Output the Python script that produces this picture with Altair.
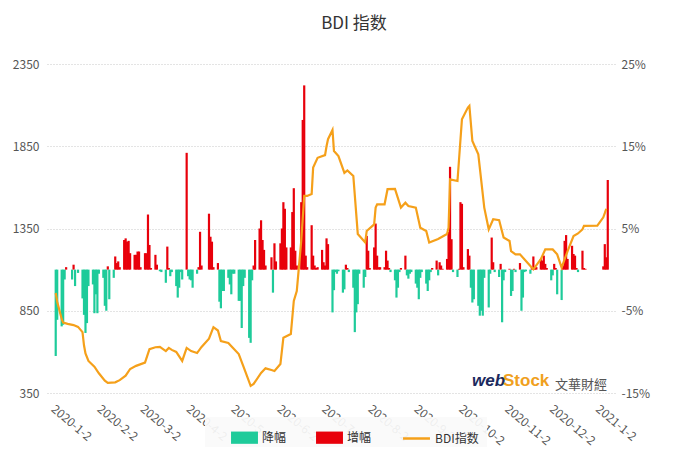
import altair as alt
import pandas as pd

# ---------------- daily change of BDI (%), one value per business day ----------------
chg_2020_01 = [-10.5, -6.1, -6.9, -6.7, -1.2, 0.3, 0.0, -1.2, 0.6, -2.0, 0.0, -0.4,
               -3.5, -5.5, -7.7, -6.5, -2.0, -1.8, -5.3, -3.0, -5.3, -0.5]
chg_2020_02 = [-1.0, -4.4, -5.0, 0.4, -3.6, -1.0, 1.6, 0.8, 1.0, 0.3, 3.6, 3.8, 3.4, 3.5,
               2.0, 1.8, 1.8, 2.2, 2.2, 0.3]
chg_2020_03 = [2.0, 2.0, 6.7, 3.0, 0.2, 1.8, 0.6, 0.0, -0.2, -0.3, -1.6, 2.8, 0.2, -0.8,
               -0.3, -2.0, -3.4, -2.2, -0.3, -1.2, 14.2, -0.8]
chg_2020_04 = [-1.2, -1.3, -2.2, -0.5, 0.3, 4.6, 0.5, 0.0, 0.0, 6.8, 4.0, 3.4, 0.3, 0.8,
               -3.9, -4.7, -2.6, -2.6, -1.0, -1.8, -3.0, -0.5]
chg_2020_05 = [-0.5, -3.8, -3.8, -7.1, -2.0, -1.0, -8.3, -8.9, -1.3, 0.5, 3.6, 5.0, 6.0,
               3.6, 2.4, 0.5, 0.0, 1.5, -2.8, 3.2, 1.0]
chg_2020_06 = [3.2, 5.0, 8.2, 7.4, 2.7, 2.7, 7.0, 9.9, 2.3, 0.5, 8.2, 18.2, 22.4, 1.7, 0.3,
               5.4, 1.7, 0.5, 0.2, 0.3, 2.4, 0.9]
chg_2020_07 = [0.5, 3.8, 3.1, -5.2, -2.5, -0.3, -0.5, -0.2, -2.8, -2.4, 0.6, 0.2, -0.3,
               -2.2, -7.6, -5.2, -4.2, -0.5, -2.2, -0.9, 4.1, 2.3, 0.2]
chg_2020_08 = [2.7, 5.6, 1.7, 0.3, 0.3, 0.3, 2.3, 1.1, 0.2, -0.3, -1.3, -3.4, -2.2, -0.3,
               0.2, 1.7, -0.7, -1.1, -0.5, -0.3, -1.7]
chg_2020_09 = [-2.2, -3.6, -1.0, -0.3, -1.7, -2.6, -1.3, -0.3, 0.2, 1.1, -0.7, 0.9, 0.5,
               0.1, 1.3, 4.6, 12.5, 3.7, -0.3, -0.9, 0.1, 8.2]
chg_2020_10 = [8.0, 0.3, 2.5, 1.7, -2.2, -4.0, -3.6, -4.4, -5.6, -5.0, -5.6, -1.0, -4.6,
               -0.5, 3.9, 0.9, -0.3, -0.9, 0.7, -6.4, -1.3, -0.3]
chg_2020_11 = [0.1, -3.2, -2.6, 0.1, -0.3, 0.8, -5.0, -3.4, -0.3, -0.2, -0.5, 0.3, 1.6,
               0.2, 0.3, 1.3, 1.1, 1.7, 0.7, 0.2, -1.3]
chg_2020_12 = [-0.7, 0.7, 0.2, -3.0, -3.7, 0.5, 3.5, 4.2, 1.3, 2.9, 1.9, 1.7, 0.2, -0.3,
               2.3, 0.2, 0.1]
chg_2021_01 = [0.4, 3.1, 1.5, 10.9]

month_spans = [
    ("2020-01-02", "2020-01-31", chg_2020_01),
    ("2020-02-01", "2020-02-29", chg_2020_02),
    ("2020-03-01", "2020-03-31", chg_2020_03),
    ("2020-04-01", "2020-04-30", chg_2020_04),
    ("2020-05-01", "2020-05-31", chg_2020_05),
    ("2020-06-01", "2020-06-30", chg_2020_06),
    ("2020-07-01", "2020-07-31", chg_2020_07),
    ("2020-08-01", "2020-08-31", chg_2020_08),
    ("2020-09-01", "2020-09-30", chg_2020_09),
    ("2020-10-01", "2020-10-31", chg_2020_10),
    ("2020-11-01", "2020-11-30", chg_2020_11),
    ("2020-12-01", "2020-12-23", chg_2020_12),
    ("2021-01-04", "2021-01-07", chg_2021_01),
]

# ---------------- BDI index line ----------------
line_dates = [
    "2020-01-02", "2020-01-03", "2020-01-06", "2020-01-07", "2020-01-10", "2020-01-14",
    "2020-01-17", "2020-01-20", "2020-01-21", "2020-01-22", "2020-01-24", "2020-01-28",
    "2020-01-31", "2020-02-04", "2020-02-06", "2020-02-11", "2020-02-14", "2020-02-18",
    "2020-02-21", "2020-02-25", "2020-03-02", "2020-03-05", "2020-03-09", "2020-03-12",
    "2020-03-16", "2020-03-18", "2020-03-20", "2020-03-23", "2020-03-27", "2020-03-30",
    "2020-04-02", "2020-04-06", "2020-04-09", "2020-04-14", "2020-04-17", "2020-04-20",
    "2020-04-22", "2020-04-27", "2020-04-30", "2020-05-04", "2020-05-07", "2020-05-12",
    "2020-05-14", "2020-05-19", "2020-05-22", "2020-05-26", "2020-05-28", "2020-06-01",
    "2020-06-03", "2020-06-08", "2020-06-10", "2020-06-12", "2020-06-15", "2020-06-17",
    "2020-06-19", "2020-06-22", "2020-06-23", "2020-06-26", "2020-07-01", "2020-07-02",
    "2020-07-03", "2020-07-06", "2020-07-07", "2020-07-10", "2020-07-14", "2020-07-16",
    "2020-07-20", "2020-07-23", "2020-07-28", "2020-07-29", "2020-08-03", "2020-08-04",
    "2020-08-05", "2020-08-10", "2020-08-12", "2020-08-17", "2020-08-21", "2020-08-24",
    "2020-08-26", "2020-08-31", "2020-09-03", "2020-09-07", "2020-09-09", "2020-09-15",
    "2020-09-21", "2020-09-22", "2020-09-23", "2020-09-28", "2020-10-01", "2020-10-05",
    "2020-10-06", "2020-10-08", "2020-10-12", "2020-10-16", "2020-10-19", "2020-10-22",
    "2020-10-26", "2020-10-29", "2020-11-02", "2020-11-03", "2020-11-06", "2020-11-09",
    "2020-11-13", "2020-11-16", "2020-11-18", "2020-11-23", "2020-11-26", "2020-12-01",
    "2020-12-04", "2020-12-07", "2020-12-11", "2020-12-15", "2020-12-18", "2020-12-21",
    "2020-12-22", "2020-12-31", "2021-01-04", "2021-01-05", "2021-01-06",
]
line_values = [
    958, 905, 800, 778, 770, 763,
    752, 720, 640, 590, 545, 510,
    470, 425, 411, 415, 428, 455,
    496, 515, 535, 617, 628, 630,
    605, 624, 612, 600, 545, 624,
    605, 593, 630, 680, 750, 730,
    666, 654, 625, 587, 515, 393,
    405, 472, 500, 490, 484, 526,
    686, 708, 910, 970, 1274, 1548,
    1548, 1560, 1720, 1780, 1796, 1850,
    1893, 1949, 1821, 1790, 1688, 1703,
    1669, 1317, 1265, 1335, 1375, 1477,
    1497, 1497, 1589, 1591, 1477, 1507,
    1487, 1477, 1355, 1335, 1265, 1286,
    1317, 1355, 1649, 1639, 2014, 2085,
    2095, 1882, 1801, 1477, 1345, 1406,
    1400, 1295, 1274, 1213, 1193, 1193,
    1152, 1122, 1102, 1163, 1223, 1223,
    1193, 1112, 1213, 1304, 1320, 1345,
    1366, 1368, 1418, 1443, 1470,
]

left_ticks = [350, 850, 1350, 1850, 2350]
right_ticks = [-15, -5, 5, 15, 25]
bar_names = ["降幅", "增幅"]
bar_colors = ["#1ECB9A", "#E8000B"]
line_names = ["BDI指数"]
line_colors = ["#F5A01A"]
title_text = "BDI 指数"
logo_web = ["web"]
logo_stock = ["Stock"]
logo_cn = ["文華財經"]

# ---------------- tables ----------------
rows = []
for start, end, vals in month_spans:
    days = pd.bdate_range(start, end)
    assert len(days) == len(vals), (start, len(days), len(vals))
    for d, v in zip(days, vals):
        rows.append({"date": d.strftime("%Y-%m-%d"), "pct": v,
                     "type": "增幅" if v >= 0 else "降幅"})
bar_df = pd.DataFrame(rows)
line_df = pd.DataFrame({"date": line_dates, "value": line_values, "series": line_names[0]})

FONT = "Noto Sans CJK SC"

x_scale = alt.Scale(
    type="utc",
    domain=[alt.DateTime(year=2019, month=12, date=30, hours=12, utc=True),
            alt.DateTime(year=2021, month=1, date=8, hours=12, utc=True)],
)
x_tick_values = [alt.DateTime(year=2020, month=m, date=2, utc=True) for m in range(1, 13)] + \
                [alt.DateTime(year=2021, month=1, date=2, utc=True)]
x_axis = alt.Axis(
    values=x_tick_values, labelExpr="utcFormat(datum.value, '%Y-%-m-%-d')",
    labelAngle=40, labelAlign="left", labelBaseline="top", labelPadding=10,
    ticks=False, domain=False, grid=False, title=None, labelOverlap=False,
    labelColor="#555", labelFontSize=12, labelFont=FONT,
)

legend_common = dict(
    orient="none", direction="horizontal", title=None,
    fillColor="rgba(250,250,250,0.93)", padding=8, columnPadding=11,
    labelFontSize=12, labelColor="#333", labelFont=FONT, symbolSize=600,
    labelOffset=5, symbolOffset=19, legendY=353,
)

bars = alt.Chart(bar_df).mark_bar(size=2.2).encode(
    x=alt.X("date:T", scale=x_scale, axis=x_axis),
    y=alt.Y("pct:Q", scale=alt.Scale(domain=[-15, 25], nice=False, zero=True),
            axis=alt.Axis(orient="right", values=right_ticks, labelExpr="datum.value + '%'",
                          grid=False, domain=False, ticks=False, labelPadding=6, title=None,
                          labelColor="#555", labelFontSize=12, labelFont=FONT)),
    color=alt.Color("type:N", scale=alt.Scale(domain=bar_names, range=bar_colors),
                    legend=alt.Legend(legendX=158, symbolType="M-1.1,-0.5H1.1V0.5H-1.1Z",
                                      symbolStrokeWidth=0, **legend_common)),
)

line = alt.Chart(line_df).mark_line(strokeWidth=2.2).encode(
    x=alt.X("date:T", scale=x_scale, axis=x_axis),
    y=alt.Y("value:Q", scale=alt.Scale(domain=[350, 2350], nice=False, zero=False),
            axis=alt.Axis(orient="left", values=left_ticks, format="d", grid=True,
                          gridDash=[1, 2], gridColor="#c8c8c8", domain=False, ticks=False,
                          labelPadding=8, title=None, labelColor="#555", labelFontSize=12,
                          labelFont=FONT)),
    stroke=alt.Stroke("series:N", scale=alt.Scale(domain=line_names, range=line_colors),
                      legend=alt.Legend(legendX=329, symbolType="M-1.1,0H1.1",
                                        symbolStrokeWidth=2.5, **legend_common)),
)

logo1 = alt.Chart(pd.DataFrame({"t": logo_web})).mark_text(
    font="Liberation Sans", fontSize=17, fontWeight="bold", fontStyle="italic",
    color="#1B2A5E", align="left", baseline="alphabetic",
).encode(text="t:N", x=alt.value(425), y=alt.value(322))
logo2 = alt.Chart(pd.DataFrame({"t": logo_stock})).mark_text(
    font="Liberation Sans", fontSize=17, fontWeight="bold",
    color="#F0A020", align="left", baseline="alphabetic",
).encode(text="t:N", x=alt.value(456), y=alt.value(322))
logo3 = alt.Chart(pd.DataFrame({"t": logo_cn})).mark_text(
    font=FONT, fontSize=13, color="#555", align="left", baseline="alphabetic",
).encode(text="t:N", x=alt.value(508), y=alt.value(325))

chart = alt.layer(bars, line, logo1, logo2, logo3).resolve_scale(
    y="independent"
).properties(
    width=568, height=329,
    autosize=alt.AutoSizeParams(type="none"),
    padding={"left": 39, "top": 56, "right": 67, "bottom": 54},
    title=alt.TitleParams(title_text, font=FONT, fontSize=17, fontWeight="normal",
                          color="#333", anchor="middle", offset=25, dx=23),
).configure_view(stroke=None)

chart.save("out.html", embed_options={"renderer": "svg", "actions": False})
